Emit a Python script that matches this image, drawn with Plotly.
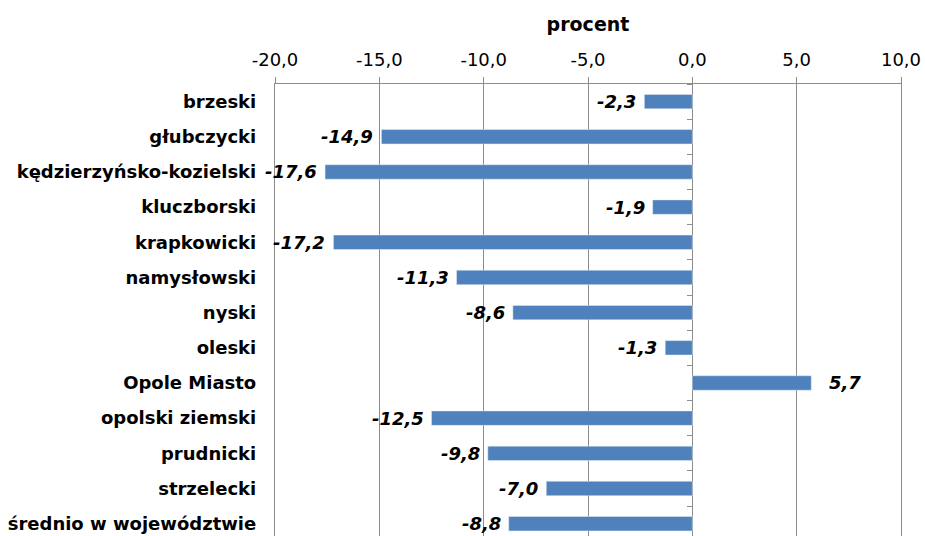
import plotly.graph_objects as go

powiaty = [
    "brzeski", "głubczycki", "kędzierzyńsko-kozielski", "kluczborski",
    "krapkowicki", "namysłowski", "nyski", "oleski", "Opole Miasto",
    "opolski ziemski", "prudnicki", "strzelecki", "średnio w województwie",
]
zmiana = [-2.3, -14.9, -17.6, -1.9, -17.2, -11.3, -8.6, -1.3, 5.7, -12.5, -9.8, -7.0, -8.8]
x_ticks = [-20, -15, -10, -5, 0, 5, 10]


def pl(v):
    # polish decimal comma, plain hyphen as minus sign
    return f"{v:.1f}".replace(".", ",")


FONT = "DejaVu Sans"
GRID = "#8c8c8c"
BLUE = "#4f81bd"

fig = go.Figure()
fig.add_trace(go.Bar(
    x=zmiana, y=powiaty, orientation="h", width=0.41,
    marker=dict(color=BLUE, line=dict(width=0)),
    hoverinfo="x+y", showlegend=False,
))
# invisible copy, only to carry the minor ticks on the zero line
fig.add_trace(go.Bar(
    x=zmiana, y=powiaty, orientation="h", width=0.41, yaxis="y2",
    marker=dict(color="rgba(0,0,0,0)"), hoverinfo="skip", showlegend=False,
))

for name, v in zip(powiaty, zmiana):
    fig.add_annotation(
        x=v, y=name, text=pl(v), showarrow=False,
        xanchor="left" if v > 0 else "right", xshift=16 if v > 0 else -6,
        font=dict(family=FONT, size=18, color="black", weight="bold", style="italic"),
    )

fig.update_layout(
    width=925, height=536,
    margin=dict(l=275, r=24, t=84, b=0),
    plot_bgcolor="white", paper_bgcolor="white",
    font=dict(family=FONT, size=18, color="black"),
    xaxis=dict(
        side="top", range=[-20, 10], tickvals=x_ticks, ticktext=[pl(t) for t in x_ticks],
        showgrid=True, gridcolor=GRID, gridwidth=1.3,
        zeroline=True, zerolinecolor=GRID, zerolinewidth=1.3,
        showline=True, linecolor=GRID, linewidth=1.3,
        ticks="outside", ticklen=6, tickcolor=GRID, tickwidth=1.3,
        ticklabelstandoff=4,
        tickfont=dict(family=FONT, size=18, color="black"),
        title=dict(text="procent", standoff=12,
                   font=dict(family=FONT, size=19, color="black", weight="bold")),
        automargin=False, fixedrange=True,
    ),
    yaxis=dict(
        type="category", categoryorder="array", categoryarray=powiaty,
        range=[12.35, -0.5], showgrid=False, zeroline=False,
        showline=True, mirror=True, linecolor=GRID, linewidth=1.3,
        ticks="", ticklabelstandoff=14,
        tickfont=dict(family=FONT, size=18, color="black", weight="bold"),
        automargin=False, fixedrange=True,
    ),
    yaxis2=dict(
        type="category", categoryorder="array", categoryarray=powiaty,
        overlaying="y", matches="y", anchor="free", position=2 / 3, side="left",
        showgrid=False, zeroline=False, showline=False, showticklabels=False,
        ticks="outside", ticklen=5, tickcolor=GRID, tickwidth=1.3,
        tickson="boundaries", automargin=False, fixedrange=True,
    ),
)

fig.write_html(
    "out.html",
    config={"displayModeBar": False},
    post_script="document.body.style.margin = '0';",
)
